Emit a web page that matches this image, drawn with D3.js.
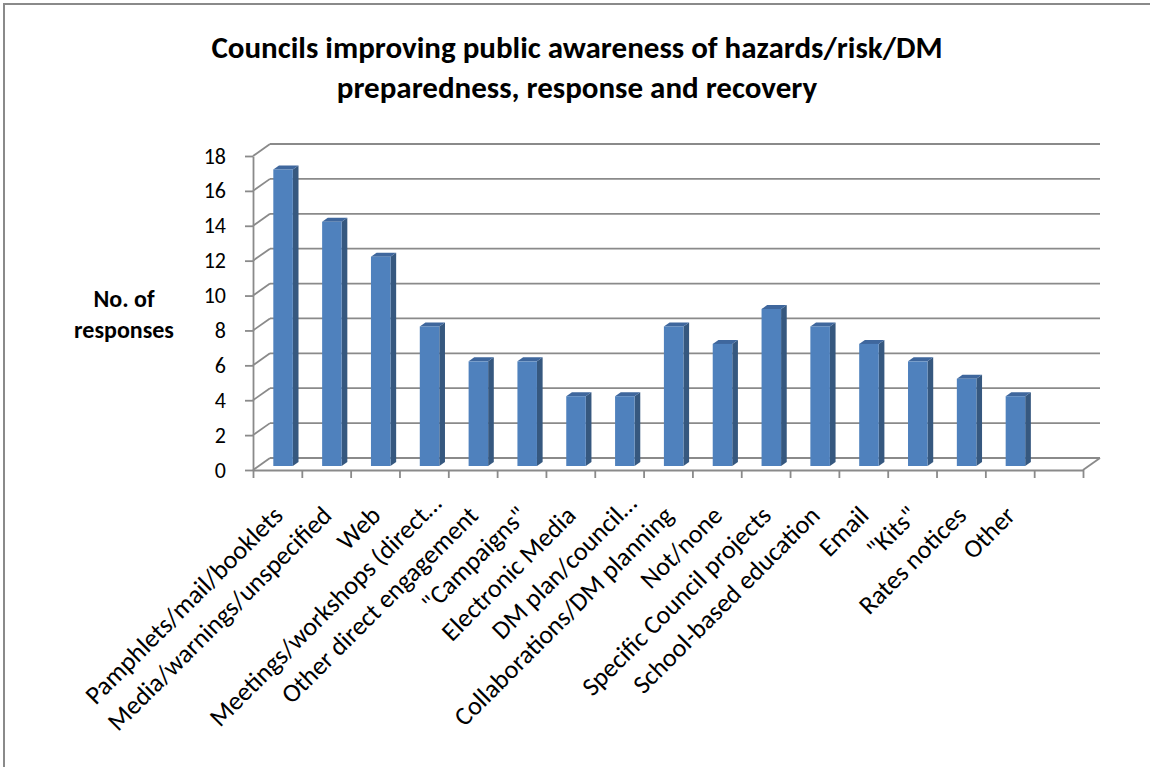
<!DOCTYPE html>
<html>
<head>
<meta charset="utf-8">
<script src="https://cdn.jsdelivr.net/npm/d3@7"></script>
<style>
  html, body { margin: 0; padding: 0; background: #fff; }
  svg { display: block; }
  text { font-family: Carlito, Calibri, Lato, "Open Sans", sans-serif; fill: #000; }
</style>
</head>
<body>
<svg id="chart" width="1150" height="767"></svg>
<script>
// ---- data ----
const titleLines = ["Councils improving public awareness of hazards/risk/DM", "preparedness, response and recovery"];
const yTitleLines = ["No. of", "responses"];
const categories = [
  "Pamphlets/mail/booklets",
  "Media/warnings/unspecified",
  "Web",
  "Meetings/workshops (direct…",
  "Other direct engagement",
  "\"Campaigns\"",
  "Electronic Media",
  "DM plan/council…",
  "Collaborations/DM planning",
  "Not/none",
  "Specific Council projects",
  "School-based education",
  "Email",
  "\"Kits\"",
  "Rates notices",
  "Other"
];
const values = [17, 14, 12, 8, 6, 6, 4, 4, 8, 7, 9, 8, 7, 6, 5, 4];
const yTicks = [0, 2, 4, 6, 8, 10, 12, 14, 16, 18];
const slotCount = categories.length + 1; // one trailing empty slot, as in the original

// ---- layout ----
const W = 1150, H = 767;
const plot = { left: 253, right: 1083, top: 156, bottom: 470 };
const depth = { dx: 17, dy: -12 };          // full wall depth offset
const barDepth = { f0: 1 / 3, f1: 2 / 3 };   // bar front / back depth fractions
const gridColor = "#8a8a8a";
const colors = { front: "#4f81bd", side: "#36587f", top: "#3f679d" };

const svg = d3.select("#chart");

// chart area border
svg.append("path")
  .attr("d", `M4,${H} V4 H${W}`)
  .attr("fill", "none").attr("stroke", "#8a8a8a").attr("stroke-width", 2);

// scales
const y = d3.scaleLinear().domain([0, 18]).range([plot.bottom, plot.top]);
const xEdge = d3.scaleLinear().domain([0, slotCount]).range([plot.left, plot.right]);
const x = d3.scaleBand().domain(d3.range(slotCount)).range([plot.left, plot.right]).padding(0);

// ---- walls / gridlines ----
const walls = svg.append("g");
walls.selectAll("line.grid").data(yTicks).join("line")
  .attr("class", "grid")
  .attr("x1", plot.left + depth.dx).attr("x2", plot.right + depth.dx)
  .attr("y1", d => y(d) + depth.dy).attr("y2", d => y(d) + depth.dy)
  .attr("stroke", gridColor).attr("stroke-width", 1.8);
walls.selectAll("line.side").data(yTicks).join("line")
  .attr("class", "side")
  .attr("x1", plot.left).attr("x2", plot.left + depth.dx)
  .attr("y1", d => y(d)).attr("y2", d => y(d) + depth.dy)
  .attr("stroke", gridColor).attr("stroke-width", 1.8);
walls.append("line")
  .attr("x1", plot.right).attr("y1", y(0))
  .attr("x2", plot.right + depth.dx).attr("y2", y(0) + depth.dy)
  .attr("stroke", gridColor).attr("stroke-width", 1.8);

// ---- axes ----
const yAxis = d3.axisLeft(y).tickValues(yTicks).tickSize(8).tickSizeOuter(0).tickPadding(19);
const gy = svg.append("g").attr("transform", `translate(${plot.left},0)`).call(yAxis);
gy.selectAll("path, line").attr("stroke", gridColor).attr("stroke-width", 1.8);
gy.selectAll("text").style("font-size", "22px").attr("fill", "#000");

const xAxis = d3.axisBottom(xEdge).tickValues(d3.range(slotCount + 1)).tickFormat("").tickSize(8).tickSizeOuter(0);
const gx = svg.append("g").attr("transform", `translate(0,${plot.bottom})`).call(xAxis);
gx.selectAll("path, line").attr("stroke", gridColor).attr("stroke-width", 1.8);

// ---- bars (3D columns) ----
const bw = x.bandwidth() * 0.4;
const bars = svg.append("g");
values.forEach((v, i) => {
  const cx = x(i) + x.bandwidth() / 2;
  const ox0 = depth.dx * barDepth.f0, oy0 = depth.dy * barDepth.f0;
  const ox1 = depth.dx * barDepth.f1, oy1 = depth.dy * barDepth.f1;
  const xl = cx - bw / 2 + ox0, xr = cx + bw / 2 + ox0;
  const yb = y(0) + oy0, yt = y(v) + oy0;
  const sdx = ox1 - ox0, sdy = oy1 - oy0;
  bars.append("path")
    .attr("d", `M${xr},${yb} L${xr + sdx},${yb + sdy} L${xr + sdx},${yt + sdy} L${xr},${yt} Z`)
    .attr("fill", colors.side);
  bars.append("path")
    .attr("d", `M${xl},${yt} L${xr},${yt} L${xr + sdx},${yt + sdy} L${xl + sdx},${yt + sdy} Z`)
    .attr("fill", colors.top);
  bars.append("rect")
    .attr("x", xl).attr("y", yt).attr("width", bw).attr("height", yb - yt)
    .attr("fill", colors.front);
});

// ---- category labels ----
// truncated labels (ending in an ellipsis) run a little further along their direction, as Excel draws them
const truncShift = 12;
svg.append("g").selectAll("text").data(categories).join("text")
  .attr("transform", (d, i) => {
    const s = d.endsWith("…") ? truncShift : 0;
    return `translate(${x(i) + x.bandwidth() / 2 + 7 + s},${plot.bottom + 47 - s}) rotate(-45)`;
  })
  .attr("text-anchor", "end")
  .style("font-size", "26px")
  .text(d => d);

// ---- titles ----
svg.append("g").selectAll("text").data(titleLines).join("text")
  .attr("x", 577).attr("y", (d, i) => 58 + i * 40)
  .attr("text-anchor", "middle")
  .style("font-size", "31px").style("font-weight", "bold")
  .text(d => d);

svg.append("g").selectAll("text").data(yTitleLines).join("text")
  .attr("x", 124).attr("y", (d, i) => 307 + i * 31)
  .attr("text-anchor", "middle")
  .style("font-size", "24px").style("font-weight", "bold")
  .text(d => d);
</script>
</body>
</html>
